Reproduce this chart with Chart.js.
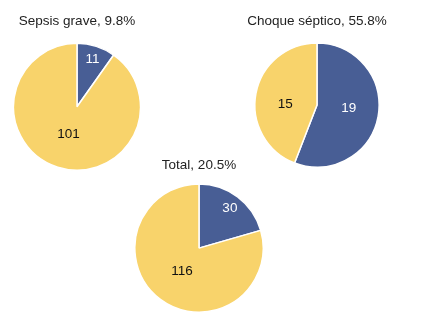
<!DOCTYPE html>
<html><head><meta charset="utf-8">
<script src="https://cdn.jsdelivr.net/npm/chart.js@4"></script>
<style>
html,body{margin:0;padding:0;background:#fff;width:427px;height:323px;overflow:hidden}
.box{position:absolute}
canvas{display:block}
</style></head><body>
<div class="box" id="b1" style="left:2px;top:4px;width:150px;height:167px"><canvas id="c1" width="150" height="167"></canvas></div>
<div class="box" id="b2" style="left:242px;top:4px;width:150px;height:164px"><canvas id="c2" width="150" height="164"></canvas></div>
<div class="box" id="b3" style="left:124px;top:147px;width:150px;height:166px"><canvas id="c3" width="150" height="166"></canvas></div>
<script>
// Data
const categories = ["Sí", "No"];
const titles = ["Sepsis grave, 9.8%", "Choque séptico, 55.8%", "Total, 20.5%"];
const sepsisGrave = [11, 101];
const choqueSeptico = [19, 15];
const total = [30, 116];

const BLUE = '#485e95', YELLOW = '#f8d36b';
const FONT = '"Liberation Sans", Arial, Helvetica, sans-serif';

const labelPlugin = {
  id: 'sliceLabels',
  afterDatasetsDraw(chart) {
    const ctx = chart.ctx;
    const meta = chart.getDatasetMeta(0);
    const ds = chart.data.datasets[0];
    ctx.save();
    ctx.font = '13.5px ' + FONT;
    ctx.textAlign = 'center';
    ctx.textBaseline = 'middle';
    meta.data.forEach((arc, i) => {
      const p = arc.getProps(['x','y','startAngle','endAngle','outerRadius']);
      const span = p.endAngle - p.startAngle;
      const mid = (p.startAngle + p.endAngle) / 2;
      const f = span < Math.PI / 2 ? 0.8 : (span < Math.PI * 1.2 ? 0.52 : 0.44);
      const x = p.x + Math.cos(mid) * p.outerRadius * f;
      const y = p.y + Math.sin(mid) * p.outerRadius * f * (span < Math.PI * 1.2 && span > Math.PI / 2 ? 0.3 : 1);
      ctx.fillStyle = i === 0 ? '#ffffff' : '#111111';
      ctx.fillText(String(ds.data[i]), x, y + 1);
    });
    ctx.restore();
  }
};

function makePie(id, title, values, padTop, padBottom) {
  new Chart(document.getElementById(id), {
    type: 'pie',
    data: {
      labels: categories,
      datasets: [{
        data: values,
        backgroundColor: [BLUE, YELLOW],
        borderColor: '#ffffff',
        borderWidth: 1.5
      }]
    },
    options: {
      responsive: false,
      animation: false,
      layout: { padding: 0 },
      plugins: {
        legend: { display: false },
        tooltip: { enabled: false },
        title: {
          display: true,
          text: title,
          color: '#222222',
          font: { family: FONT, size: 13.5, weight: 'normal', lineHeight: 1.2 },
          padding: { top: padTop, bottom: padBottom }
        }
      }
    },
    plugins: [labelPlugin]
  });
}

makePie('c1', titles[0], sepsisGrave, 9.5, 12.9);
makePie('c2', titles[1], choqueSeptico, 9.5, 12.5);
makePie('c3', titles[2], total, 10, 10);
</script>
</body></html>
